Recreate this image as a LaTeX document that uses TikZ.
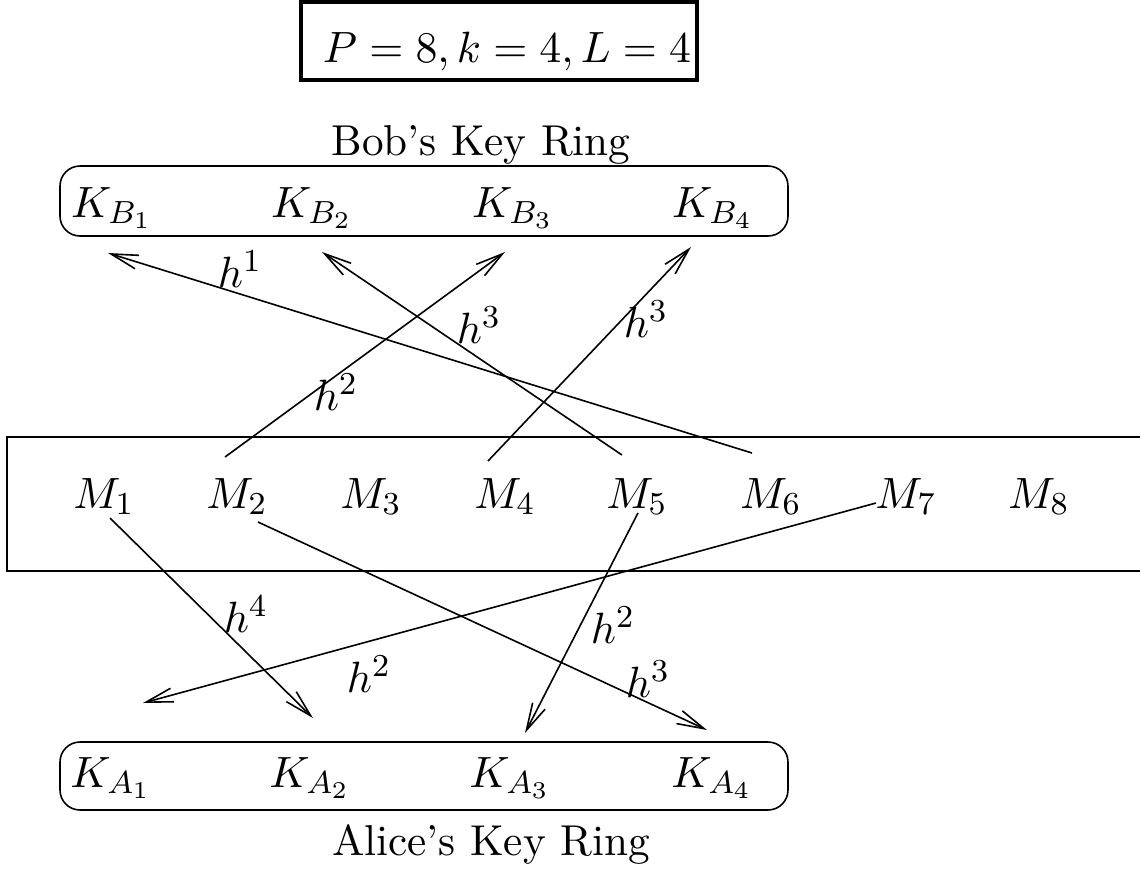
\documentclass[tikz,border=0pt]{standalone}
\usetikzlibrary{arrows.meta}
\DeclareMathSizes{10.8}{10.8}{7.6}{6.2}
\begin{document}
\begin{tikzpicture}[x=0.25pt,y=-0.25pt,
  lab/.style={anchor=base,inner sep=0pt,font=\fontsize{10.8}{13}\selectfont},
  conn/.style={line width=0.4pt,-{Straight Barb[length=6.8pt,width=3.5pt]}},
  ring/.style={draw,line width=0.4pt,rounded corners=5pt}]
\useasboundingbox (0,0) rectangle (1140,872);
% parameter box
\draw[line width=1pt] (301,2) rectangle (697,80);
\node[lab] (par) at (507,62) {$P=8, k=4, L=4$};
% Bob
\node[lab] (bobt) at (481,155) {Bob's Key Ring};
\draw[ring] (60,166) rectangle (788,236);
\node[lab] (kb1) at (112,217) {$K_{B_1}$};
\node[lab] (kb2) at (312,217) {$K_{B_2}$};
\node[lab] (kb3) at (513,217) {$K_{B_3}$};
\node[lab] (kb4) at (713,217) {$K_{B_4}$};
% messages
\draw[line width=0.5pt] (1140,437) -- (7,437) -- (7,571) -- (1140,571);
\node[lab] (m1) at (104,508) {$M_1$};
\node[lab] (m2) at (237,508) {$M_2$};
\node[lab] (m3) at (371,508) {$M_3$};
\node[lab] (m4) at (505,508) {$M_4$};
\node[lab] (m5) at (637,508) {$M_5$};
\node[lab] (m6) at (771,508) {$M_6$};
\node[lab] (m7) at (906,508) {$M_7$};
\node[lab] (m8) at (1039,508) {$M_8$};
% Alice
\draw[ring] (60,742) rectangle (788,810);
\node[lab] (ka1) at (111,787) {$K_{A_1}$};
\node[lab] (ka2) at (310,787) {$K_{A_2}$};
\node[lab] (ka3) at (510,787) {$K_{A_3}$};
\node[lab] (ka4) at (712,787) {$K_{A_4}$};
\node[lab] (alit) at (491,855) {Alice's Key Ring};
% endpoints
\coordinate (s1) at (752,453); \coordinate (e1) at (108,253);
\coordinate (s2) at (622,455); \coordinate (e2) at (322,252);
\coordinate (s3) at (225,457); \coordinate (e3) at (505,252);
\coordinate (s4) at (488,461); \coordinate (e4) at (691,247);
\coordinate (s5) at (110,518); \coordinate (e5) at (313,718);
\coordinate (s6) at (258,522); \coordinate (e6) at (707,730);
\coordinate (s7) at (638,513); \coordinate (e7) at (525,733);
\coordinate (s8) at (876,503); \coordinate (e8) at (143,703);
\draw[conn] (s1) -- (e1);
\draw[conn] (s2) -- (e2);
\draw[conn] (s3) -- (e3);
\draw[conn] (s4) -- (e4);
\draw[conn] (s5) -- (e5);
\draw[conn] (s6) -- (e6);
\draw[conn] (s7) -- (e7);
\draw[conn] (s8) -- (e8);
% labels
\node[lab] (l1) at (240,287) {$h^1$};
\node[lab] (l2) at (479,343) {$h^3$};
\node[lab] (l3) at (336,410) {$h^2$};
\node[lab] (l4) at (646,337) {$h^3$};
\node[lab] (l5) at (246,632) {$h^4$};
\node[lab] (l6) at (369,692) {$h^2$};
\node[lab] (l7) at (613,643) {$h^2$};
\node[lab] (l8) at (648,697) {$h^3$};
\end{tikzpicture}
\end{document}
